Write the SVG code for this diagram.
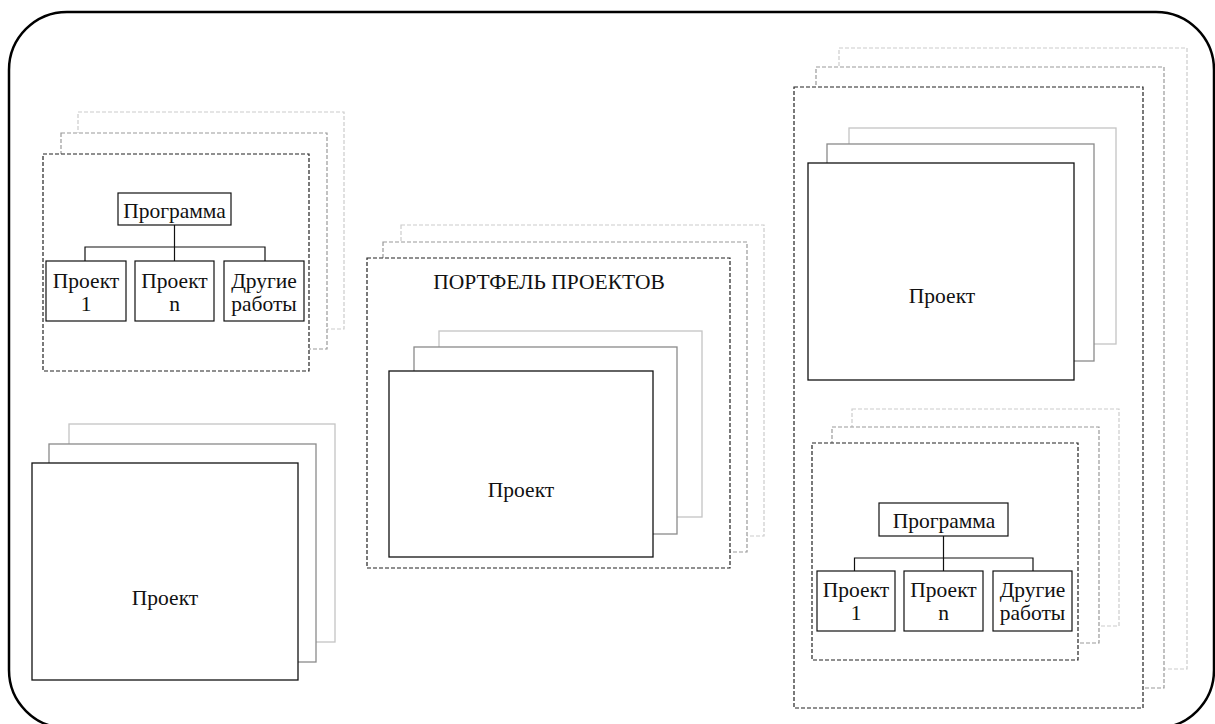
<svg xmlns="http://www.w3.org/2000/svg" width="1215" height="724" viewBox="0 0 1215 724">
<style>
text{font-size:21.5px;fill:#111;text-anchor:middle}
.frame{fill:none;stroke:#000;stroke-width:2.5}
.d0{fill:#fff;stroke:#222;stroke-width:1.2;stroke-dasharray:4 2}
.d1{fill:#fff;stroke:#999;stroke-width:1.2;stroke-dasharray:4 2}
.d2{fill:#fff;stroke:#ccc;stroke-width:1.2;stroke-dasharray:4 2}
.s0{fill:#fff;stroke:#111;stroke-width:1.3}
.s1{fill:#fff;stroke:#8a8a8a;stroke-width:1.3}
.s2{fill:#fff;stroke:#c4c4c4;stroke-width:1.3}
.b{fill:#fff;stroke:#111;stroke-width:1.2}
.ln{fill:none;stroke:#111;stroke-width:1.2}
</style>
<g font-family="Liberation Serif, serif">
<rect class="frame" x="9" y="12" width="1205" height="716" rx="58" ry="58"/>

<g id="program-left">
<rect class="d2" x="78" y="112" width="266" height="217"/>
<rect class="d1" x="61" y="133" width="266" height="216"/>
<rect class="d0" x="43" y="154" width="266" height="217"/>
<g id="pl-program"><rect class="b" x="118" y="193" width="113" height="32"/><text x="174.5" y="218">Программа</text></g>
<g id="pl-p1"><rect class="b" x="46" y="261" width="80" height="60"/><text x="86" y="288">Проект</text><text x="86" y="311">1</text></g>
<g id="pl-pn"><rect class="b" x="135" y="261" width="79" height="60"/><text x="174.5" y="288">Проект</text><text x="174.5" y="311">n</text></g>
<g id="pl-other"><rect class="b" x="224" y="261" width="80" height="60"/><text x="264" y="288">Другие</text><text x="264" y="311">работы</text></g>
</g>

<g id="project-left">
<rect class="s2" x="69" y="424" width="266" height="218"/>
<rect class="s1" x="49" y="444" width="267" height="218"/>
<rect class="s0" x="32" y="463" width="266" height="217"/>
<text x="165" y="605">Проект</text>
</g>

<g id="portfolio-center">
<rect class="d2" x="401" y="225" width="363" height="311"/>
<rect class="d1" x="383" y="242" width="364" height="310"/>
<rect class="d0" x="367" y="258" width="363" height="310"/>
<text x="549" y="289">ПОРТФЕЛЬ ПРОЕКТОВ</text>
<g id="pc-project">
<rect class="s2" x="439" y="331" width="263" height="186"/>
<rect class="s1" x="414" y="347" width="263" height="187"/>
<rect class="s0" x="389" y="371" width="264" height="186"/>
<text x="521" y="497">Проект</text>
</g>
</g>

<g id="portfolio-right">
<rect class="d2" x="839" y="48" width="348" height="621"/>
<rect class="d1" x="816" y="67" width="348" height="621"/>
<rect class="d0" x="794" y="87" width="349" height="621"/>
<g id="pr-project">
<rect class="s2" x="849" y="128" width="267" height="216"/>
<rect class="s1" x="827" y="144" width="267" height="217"/>
<rect class="s0" x="808" y="163" width="266" height="217"/>
<text x="942" y="303">Проект</text>
</g>
<g id="pr-programstack">
<rect class="d2" x="852" y="409" width="267" height="217"/>
<rect class="d1" x="832" y="427" width="267" height="216"/>
<rect class="d0" x="812" y="443" width="266" height="217"/>
<g id="pr-program"><rect class="b" x="879" y="503" width="129" height="33"/><text x="944" y="528">Программа</text></g>
<g id="pr-p1"><rect class="b" x="817" y="571" width="78" height="60"/><text x="856" y="597">Проект</text><text x="856" y="620">1</text></g>
<g id="pr-pn"><rect class="b" x="904" y="571" width="79" height="60"/><text x="943.5" y="597">Проект</text><text x="943.5" y="620">n</text></g>
<g id="pr-other"><rect class="b" x="993" y="571" width="79" height="60"/><text x="1032.5" y="597">Другие</text><text x="1032.5" y="620">работы</text></g>
</g>
</g>

<g id="connectors">
<path class="ln" d="M174.5 225V261M85 261V247H265V261"/>
<path class="ln" d="M943.5 536V571M854.5 571V558H1033V571"/>
</g>
</g>
</svg>
